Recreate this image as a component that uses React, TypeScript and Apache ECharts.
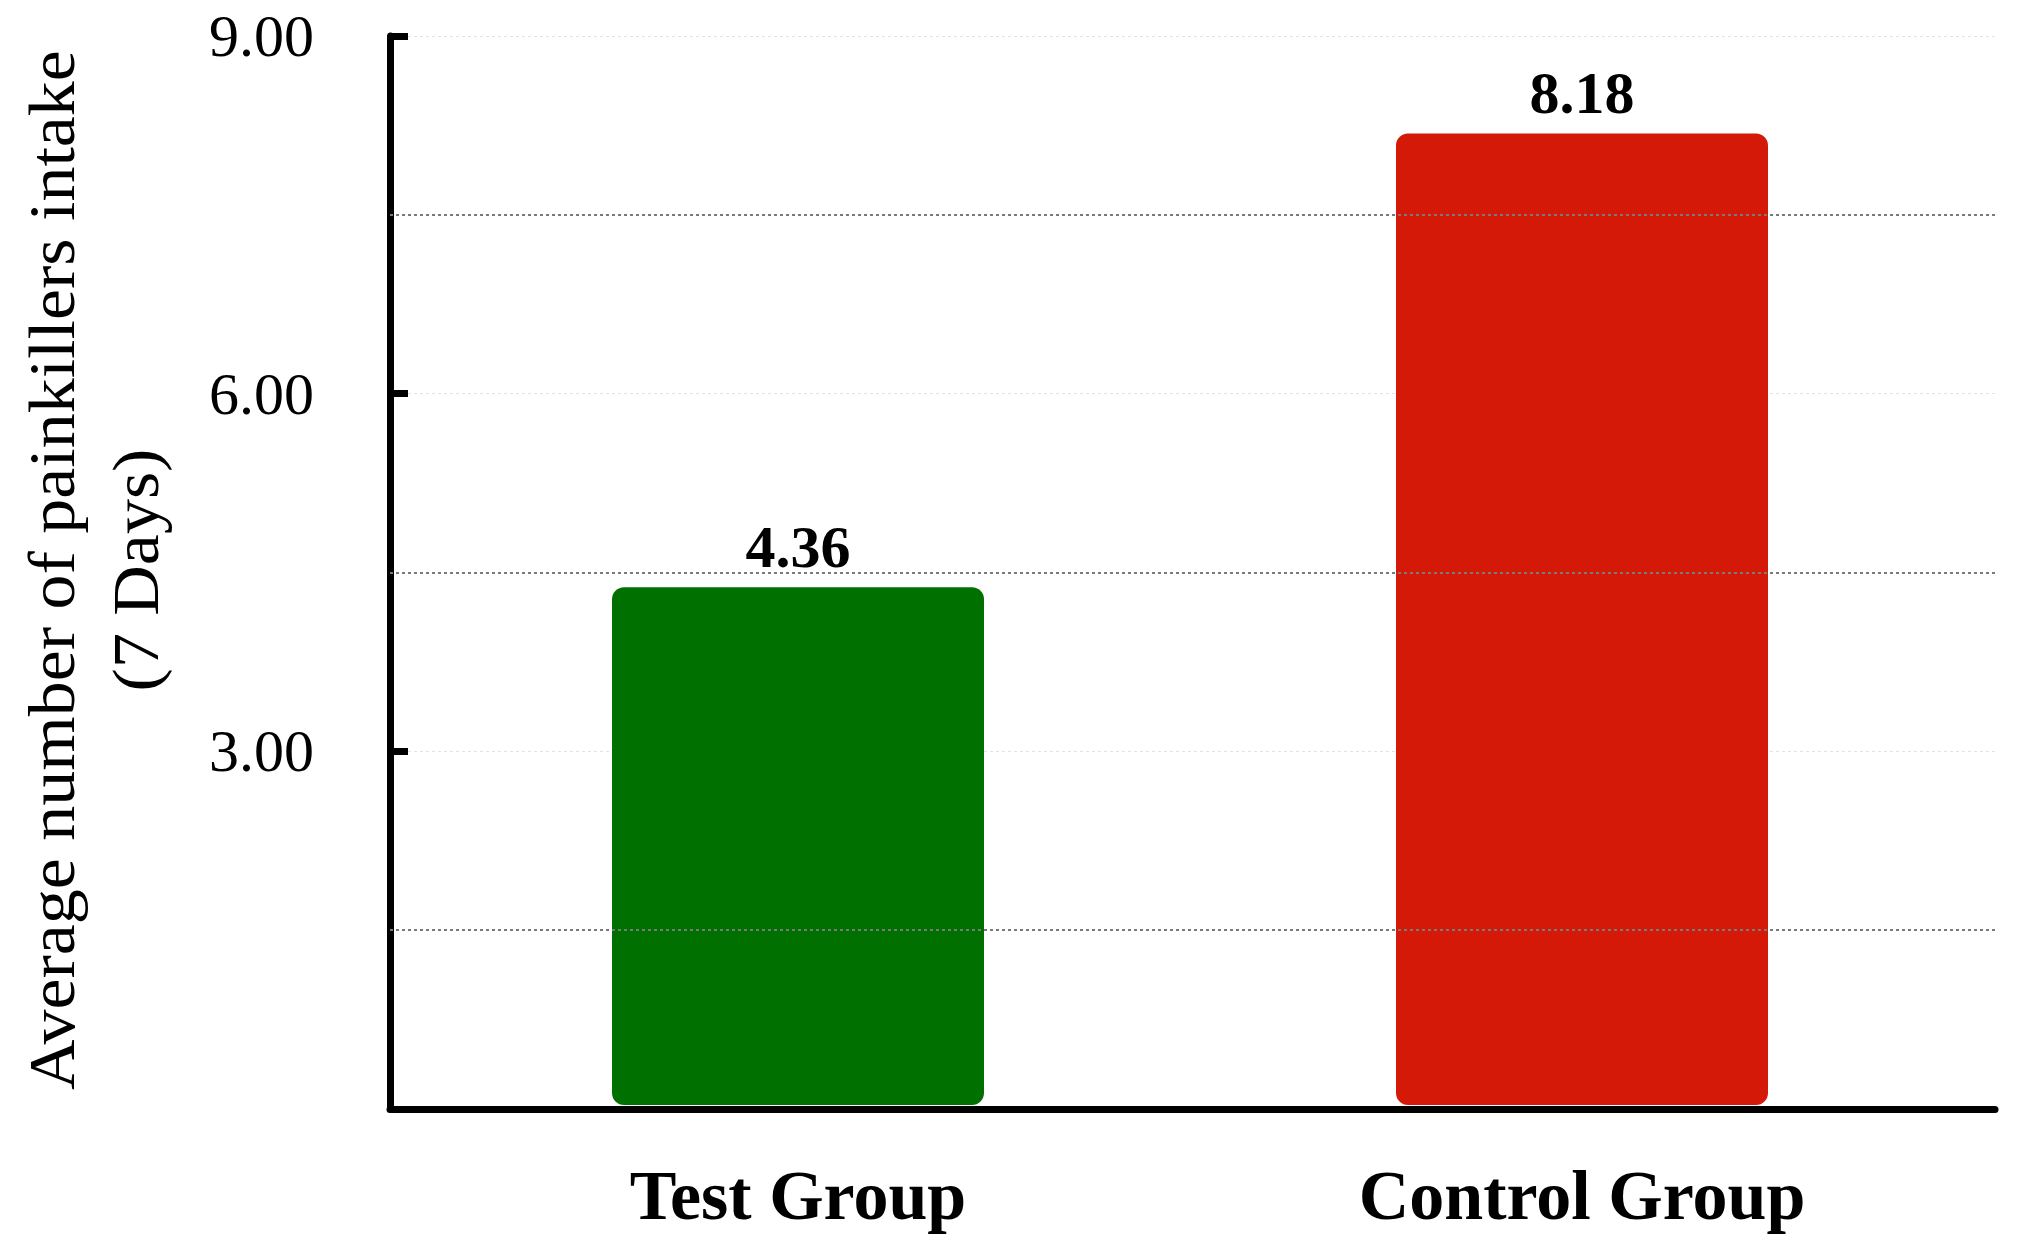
import React, { useEffect, useRef } from "react";
import * as echarts from "echarts";

const categories = ["Test Group", "Control Group"];
const values = [4.36, 8.18];
const barColors = ["#007000", "#d41909"];
const yTickValues = [0, 3, 6, 9];
const dottedGridValues = [1.5, 4.5, 7.5];
const yTitle = "Average number of painkillers intake\n(7 Days)";

const FONT = "'Liberation Serif', 'Times New Roman', serif";

export default function App() {
  const ref = useRef<HTMLDivElement>(null);
  useEffect(() => {
    if (!ref.current) return;
    const chart = echarts.init(ref.current, null, { renderer: "svg" });
    const yMax = yTickValues[yTickValues.length - 1];
    chart.setOption({
      animation: false,
      backgroundColor: "#ffffff",
      grid: [
        { left: 390, right: 25, top: 36, bottom: 145 },
        { left: 406, right: 46, top: 36, bottom: 149 },
      ],
      xAxis: [
        {
          type: "value",
          gridIndex: 0,
          min: 0,
          max: 1,
          axisLine: { show: true, lineStyle: { color: "#000", width: 7 } },
          axisTick: { show: false },
          axisLabel: { show: false },
          splitLine: { show: false },
        },
        {
          type: "category",
          gridIndex: 1,
          data: categories,
          axisLine: { show: false },
          axisTick: { show: false },
          axisLabel: {
            color: "#000",
            fontFamily: FONT,
            fontWeight: "bold",
            fontSize: 70,
            margin: 55,
          },
        },
      ],
      yAxis: [
        {
          type: "value",
          gridIndex: 0,
          min: 0,
          max: yMax,
          interval: 3,
          axisLine: { show: true, lineStyle: { color: "#000", width: 7 } },
          axisTick: {
            show: true,
            inside: true,
            length: 18,
            lineStyle: { color: "#000", width: 7 },
          },
          axisLabel: {
            color: "#000",
            fontFamily: FONT,
            fontSize: 60,
            margin: 76,
            formatter: (v: number) => (v === 0 ? "" : v.toFixed(2)),
          },
          splitLine: {
            show: true,
            lineStyle: { color: "#e2e2e2", width: 1, type: [3, 3] },
          },
        },
        {
          type: "value",
          gridIndex: 1,
          min: 0,
          max: yMax,
          show: false,
        },
      ],
      series: [
        {
          type: "line",
          xAxisIndex: 0,
          yAxisIndex: 0,
          data: [],
          silent: true,
          markLine: {
            silent: true,
            symbol: "none",
            label: { show: false },
            lineStyle: { color: "#7a7a7a", width: 2, type: [3, 3] },
            data: dottedGridValues.map((v) => ({ yAxis: v })),
          },
        },
        {
          type: "bar",
          xAxisIndex: 1,
          yAxisIndex: 1,
          barWidth: 372,
          data: values.map((v, i) => ({
            value: v,
            itemStyle: { color: barColors[i], borderRadius: 12 },
          })),
          label: {
            show: true,
            position: "top",
            distance: 10,
            color: "#000",
            fontFamily: FONT,
            fontWeight: "bold",
            fontSize: 60,
            formatter: (p: any) => Number(p.value).toFixed(2),
          },
          z: 3,
        },
      ],
      graphic: [
        {
          type: "text",
          x: 94,
          y: 570,
          rotation: Math.PI / 2,
          scaleX: 1.06,
          style: {
            text: yTitle,
            fontFamily: FONT,
            fontSize: 66,
            lineHeight: 84,
            fill: "#000",
            textAlign: "center",
            textVerticalAlign: "middle",
          },
        },
      ],
    });
    return () => chart.dispose();
  }, []);
  return (
    <div
      ref={ref}
      style={{ position: "fixed", left: 0, top: 0, width: 2020, height: 1254 }}
    />
  );
}
